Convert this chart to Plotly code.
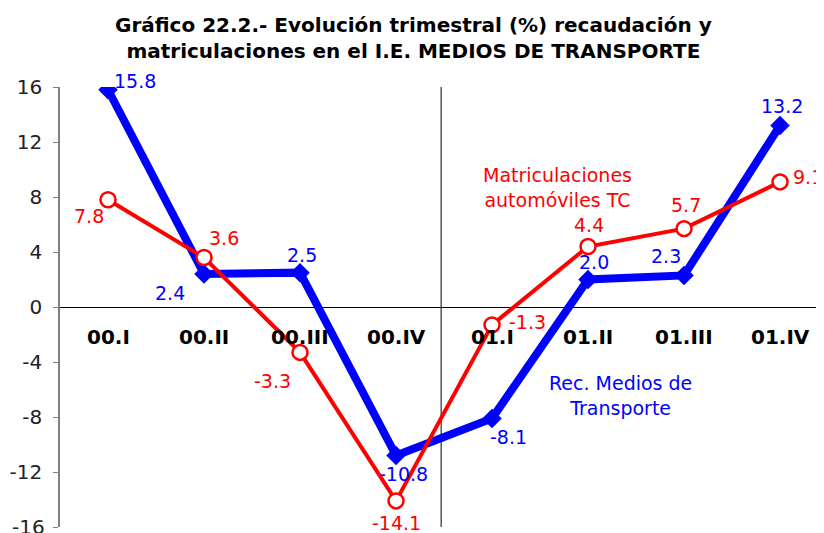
import plotly.graph_objects as go

categories = ["00.I", "00.II", "00.III", "00.IV", "01.I", "01.II", "01.III", "01.IV"]
rec_medios = [15.8, 2.4, 2.5, -10.8, -8.1, 2.0, 2.3, 13.2]
matriculaciones = [7.8, 3.6, -3.3, -14.1, -1.3, 4.4, 5.7, 9.1]
y_ticks = [-16, -12, -8, -4, 0, 4, 8, 12, 16]
y_tick_labels = ["-16", "-12", "-8", "-4", "0", "4", "8", "12", "16"]

# label offsets (pixels) - styling only
blue_dx = [27, -34, 2, 7, 16, 6, -18, 2]
blue_dy = [9, -19, 18, -18, -19, 18, 19, 20]
red_dx = [-19, 20, -28, 0, 35, 1, 2, 28]
red_dy = [-16, 20, -29, -22, 3, 22, 24, 5]

FONT = "DejaVu Sans"
BLUE = "#0000FF"
RED = "#FF0000"
xs = list(range(len(categories)))

fig = go.Figure()
fig.add_trace(go.Scatter(
    x=xs, y=rec_medios, mode="lines+markers",
    line=dict(color=BLUE, width=8),
    marker=dict(symbol="diamond", size=15, color=BLUE),
    showlegend=False, hoverinfo="skip"))
fig.add_trace(go.Scatter(
    x=xs, y=matriculaciones, mode="lines+markers",
    line=dict(color=RED, width=4),
    marker=dict(symbol="circle", size=15, color="white", line=dict(color=RED, width=2.5)),
    showlegend=False, hoverinfo="skip"))

annotations = []
for i, v in enumerate(rec_medios):
    annotations.append(dict(x=xs[i], y=v, text=f"{v:.1f}", showarrow=False,
                            xshift=blue_dx[i], yshift=blue_dy[i],
                            font=dict(family=FONT, size=19, color=BLUE)))
for i, v in enumerate(matriculaciones):
    annotations.append(dict(x=xs[i], y=v, text=f"{v:.1f}", showarrow=False,
                            xshift=red_dx[i], yshift=red_dy[i],
                            font=dict(family=FONT, size=19, color=RED)))
for i, c in enumerate(categories):
    annotations.append(dict(x=xs[i], y=-2.2, text=f"<b>{c}</b>", showarrow=False,
                            font=dict(family=FONT, size=20, color="black")))

annotations.append(dict(x=4.68, y=8.7, text="Matriculaciones<br>automóviles TC",
                        showarrow=False, align="center",
                        font=dict(family=FONT, size=19, color=RED)))
annotations.append(dict(x=5.34, y=-6.4, text="Rec. Medios de<br>Transporte",
                        showarrow=False, align="center",
                        font=dict(family=FONT, size=19, color=BLUE)))

annotations.append(dict(
    text="<b>Gráfico 22.2.- Evolución trimestral (%) recaudación y<br>matriculaciones en el I.E. MEDIOS DE TRANSPORTE</b>",
    xref="paper", yref="paper", x=(405 - 52) / 764, y=1 + (79 - 3) / 440,
    xanchor="center", yanchor="top", showarrow=False, align="center",
    font=dict(family=FONT, size=20, color="black")))

# bottom tick label, partly cut by the figure edge as in the reference
annotations.append(dict(
    text=y_tick_labels[0], xref="paper", yref="y", x=0, y=y_ticks[0],
    xanchor="right", yanchor="middle", xshift=-13, showarrow=False,
    font=dict(family=FONT, size=20, color="#222222")))

fig.update_layout(
    width=816, height=525,
    margin=dict(l=52, r=0, t=79, b=6),
    paper_bgcolor="white", plot_bgcolor="white",
    xaxis=dict(range=[-0.5, 7.458], showticklabels=False, showgrid=False,
               zeroline=False, showline=False, ticks=""),
    yaxis=dict(range=[-16, 16], tickvals=y_ticks, ticktext=y_tick_labels,
               showgrid=False,
               zeroline=True, zerolinecolor="black", zerolinewidth=1,
               showline=True, linecolor="#808080", linewidth=1.5,
               ticks="outside", ticklen=5, tickcolor="#808080",
               ticklabelstandoff=7,
               tickfont=dict(family=FONT, size=20, color="#222222")),
    annotations=annotations,
    shapes=[dict(type="line", xref="x", yref="paper", x0=3.47, x1=3.47, y0=0, y1=1,
                 line=dict(color="black", width=1), layer="below")],
)

fig.write_html("out.html")
